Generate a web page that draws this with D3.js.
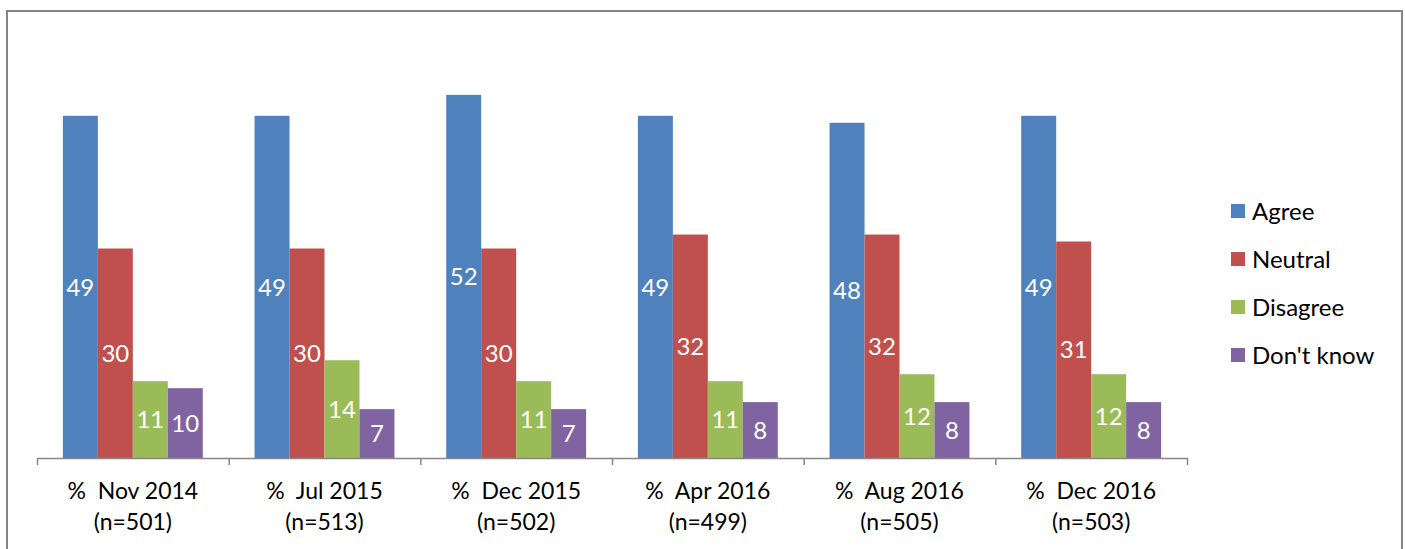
<!DOCTYPE html>
<html>
<head>
  <meta charset="utf-8">
  <title>Agree / Neutral / Disagree</title>
  <script src="https://cdn.jsdelivr.net/npm/d3@7"></script>
  <style>
  body { margin: 0; background: #fff; }
  svg { display: block; font-family: Lato, "Open Sans", sans-serif; }
  .axis path, .axis line { stroke: #868686; stroke-width: 1.5; }
  .catLabel { font-size: 23px; fill: #000; }
  .valLabel { font-size: 24px; fill: #fff; }
  .legend text { font-size: 24px; fill: #000; }
  </style>
</head>
<body>
<script>
  // chart values
  const CATEGORIES = ["%  Nov 2014", "%  Jul 2015", "%  Dec 2015", "%  Apr 2016", "%  Aug 2016", "%  Dec 2016"];
  const SAMPLES = ["(n=501)", "(n=513)", "(n=502)", "(n=499)", "(n=505)", "(n=503)"];
  const SERIES = ["Agree", "Neutral", "Disagree", "Don't know"];
  const COLORS = ["#4f81bd", "#c0504d", "#9bbb59", "#8064a2"];
  const AGREE = [49, 49, 52, 49, 48, 49];
  const NEUTRAL = [30, 30, 30, 32, 32, 31];
  const DISAGREE = [11, 14, 11, 11, 12, 12];
  const DONT_KNOW = [10, 7, 7, 8, 8, 8];

  const width = 1405, height = 549;
  const plot = { left: 37, right: 1187, top: 39, bottom: 458 };

  const values = [AGREE, NEUTRAL, DISAGREE, DONT_KNOW];
  const rows = CATEGORIES.map((c, i) => ({
    cat: c,
    n: SAMPLES[i],
    bars: SERIES.map((s, j) => ({ series: s, value: values[j][i] }))
  }));

  const svg = d3.select("body").append("svg")
    .attr("width", width)
    .attr("height", height);

  // outer frame
  svg.append("rect")
    .attr("x", 7).attr("y", 11)
    .attr("width", 1395).attr("height", 560)
    .attr("fill", "none")
    .attr("stroke", "#868686")
    .attr("stroke-width", 2);

  const x0 = d3.scaleBand()
    .domain(CATEGORIES)
    .range([plot.left, plot.right]);
  const x1 = d3.scaleBand()
    .domain(SERIES)
    .range([0, x0.bandwidth()])
    .paddingOuter(0.74);
  const y = d3.scaleLinear()
    .domain([0, 60])
    .range([plot.bottom, plot.top]);
  const color = d3.scaleOrdinal().domain(SERIES).range(COLORS);

  // bars
  const groups = svg.append("g").attr("id", "bars")
    .selectAll("g")
    .data(rows)
    .enter()
    .append("g")
    .attr("transform", d => `translate(${x0(d.cat)},0)`);

  groups.selectAll("rect")
    .data(d => d.bars)
    .enter()
    .append("rect")
    .attr("x", d => x1(d.series))
    .attr("y", d => y(d.value))
    .attr("width", x1.bandwidth())
    .attr("height", d => y(0) - y(d.value))
    .attr("fill", d => color(d.series));

  groups.selectAll("text")
    .data(d => d.bars)
    .enter()
    .append("text")
    .attr("class", "valLabel")
    .attr("x", d => x1(d.series) + x1.bandwidth() / 2)
    .attr("y", d => (y(d.value) + y(0)) / 2)
    .attr("dy", "0.36em")
    .attr("text-anchor", "middle")
    .text(d => d.value);

  // category axis: line with tick marks on band edges
  const edges = d3.scaleLinear()
    .domain([0, CATEGORIES.length])
    .range([plot.left, plot.right]);
  svg.append("g")
    .attr("class", "axis")
    .attr("transform", `translate(0,${plot.bottom})`)
    .call(d3.axisBottom(edges)
      .tickValues(d3.range(CATEGORIES.length + 1))
      .tickSizeInner(7)
      .tickSizeOuter(0)
      .tickFormat(""));

  const cats = svg.append("g").attr("id", "categories")
    .selectAll("text")
    .data(rows)
    .enter()
    .append("text")
    .attr("class", "catLabel")
    .attr("text-anchor", "middle")
    .attr("xml:space", "preserve");
  cats.append("tspan")
    .attr("x", d => x0(d.cat) + x0.bandwidth() / 2)
    .attr("y", 499)
    .text(d => d.cat);
  cats.append("tspan")
    .attr("x", d => x0(d.cat) + x0.bandwidth() / 2)
    .attr("y", 530)
    .text(d => d.n);

  // legend
  const legend = svg.append("g").attr("class", "legend")
    .selectAll("g")
    .data(SERIES)
    .enter()
    .append("g")
    .attr("transform", (d, i) => `translate(1231,${211 + i * 48})`);
  legend.append("rect")
    .attr("x", 0).attr("y", -7)
    .attr("width", 14).attr("height", 14)
    .attr("fill", d => color(d));
  legend.append("text")
    .attr("x", 21)
    .attr("y", 9)
    .text(d => d);
</script>
</body>
</html>
